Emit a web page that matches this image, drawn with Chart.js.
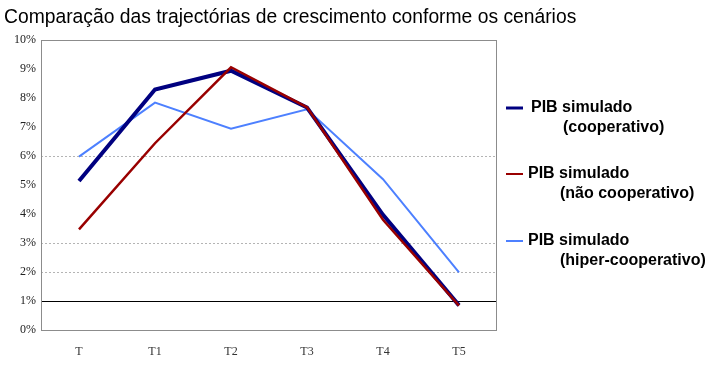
<!DOCTYPE html>
<html>
<head>
<meta charset="utf-8">
<script src="https://cdn.jsdelivr.net/npm/chart.js@4/dist/chart.umd.min.js"></script>
<style>
  body { margin: 0; background: #fff; }
  #wrap { width: 710px; height: 369px; }
</style>
</head>
<body>
<div id="wrap"><canvas id="myChart"></canvas></div>
<script>
var chartTitle = 'Comparação das trajectórias de crescimento conforme os cenários';
var periods = ['T', 'T1', 'T2', 'T3', 'T4', 'T5'];
var pibCooperativo = [5.14, 8.29, 8.94, 7.67, 3.97, 0.85];
var pibNaoCooperativo = [3.47, 6.44, 9.06, 7.68, 3.8, 0.84];
var pibHiperCooperativo = [5.98, 7.84, 6.94, 7.61, 5.2, 1.99];
var seriesNames = [
    ['PIB simulado', '(cooperativo)'],
    ['PIB simulado', '(não cooperativo)'],
    ['PIB simulado', '(hiper-cooperativo)']
];
var yTicks = [0, 1, 2, 3, 4, 5, 6, 7, 8, 9, 10];

// title + legend drawn by hand (the built-in title squeezes text to the plot width)
var sideLegend = {
    id: 'sideLegend',
    afterDraw: function (chart) {
        var ctx = chart.ctx;
        ctx.save();
        ctx.fillStyle = '#000';
        ctx.textBaseline = 'alphabetic';
        ctx.font = '19.3px "Liberation Sans", Arial, sans-serif';
        ctx.fillText(chartTitle, 4, 23);

        var spots = [
            { y: 108, x1: 531, x2: 563 },
            { y: 174, x1: 528, x2: 560 },
            { y: 241, x1: 528, x2: 560 }
        ];
        chart.data.datasets.forEach(function (ds, i) {
            var s = spots[i];
            ctx.strokeStyle = ds.borderColor;
            ctx.lineWidth = i === 0 ? 3 : 2;
            ctx.beginPath();
            ctx.moveTo(506, s.y);
            ctx.lineTo(523, s.y);
            ctx.stroke();
            ctx.fillStyle = '#000';
            ctx.font = 'bold 16px "Liberation Sans", Arial, sans-serif';
            ctx.textBaseline = 'middle';
            ctx.fillText(seriesNames[i][0], s.x1, s.y);
            ctx.fillText(seriesNames[i][1], s.x2, s.y + 19.5);
        });
        // plot frame
        var a = chart.chartArea;
        ctx.strokeStyle = '#8c8c8c';
        ctx.lineWidth = 1;
        ctx.strokeRect(a.left + 0.5, a.top + 0.5, a.right - a.left - 1, a.bottom - a.top);
        ctx.restore();
    }
};

var ctx = document.getElementById('myChart').getContext('2d');
var myChart = new Chart(ctx, {
    type: 'line',
    data: {
        labels: periods,
        datasets: [{
            label: seriesNames[0].join(' '),
            data: pibCooperativo,
            borderColor: '#000080',
            borderWidth: 4,
            order: 1
        }, {
            label: seriesNames[1].join(' '),
            data: pibNaoCooperativo,
            borderColor: '#990000',
            borderWidth: 2.5,
            order: 0
        }, {
            label: seriesNames[2].join(' '),
            data: pibHiperCooperativo,
            borderColor: '#4d80ff',
            borderWidth: 2,
            order: 2
        }]
    },
    options: {
        responsive: true,
        maintainAspectRatio: false,
        animation: false,
        elements: {
            point: { radius: 0 },
            line: { tension: 0 }
        },
        layout: {
            padding: { left: 4, right: 213, top: 40, bottom: 0 }
        },
        plugins: {
            legend: { display: false },
            tooltip: { enabled: false },
            title: { display: false }
        },
        scales: {
            x: {
                offset: true,
                grid: { display: false, drawTicks: false },
                border: { display: false },
                ticks: {
                    color: '#333',
                    padding: 15,
                    font: { family: '"Liberation Serif", "Times New Roman", serif', size: 12 }
                },
                afterFit: function (s) { s.height = 39; }
            },
            y: {
                min: 0,
                max: 10,
                afterBuildTicks: function (s) {
                    s.ticks = yTicks.map(function (v) { return { value: v }; });
                },
                grid: {
                    drawTicks: false,
                    color: function (c) {
                        var v = c.tick && c.tick.value;
                        if (v === 1) return '#000';
                        if (v === 2 || v === 3 || v === 6) return '#b4b4b4';
                        return 'rgba(0,0,0,0)';
                    }
                },
                border: {
                    display: false,
                    dash: function (c) {
                        return c.tick && c.tick.value === 1 ? [] : [2, 2];
                    }
                },
                ticks: {
                    color: '#222',
                    padding: 5,
                    font: { family: '"Liberation Serif", "Times New Roman", serif', size: 12 },
                    callback: function (v) { return v + '%'; }
                },
                afterFit: function (s) { s.width = 37; }
            }
        }
    },
    plugins: [sideLegend]
});
</script>
</body>
</html>
